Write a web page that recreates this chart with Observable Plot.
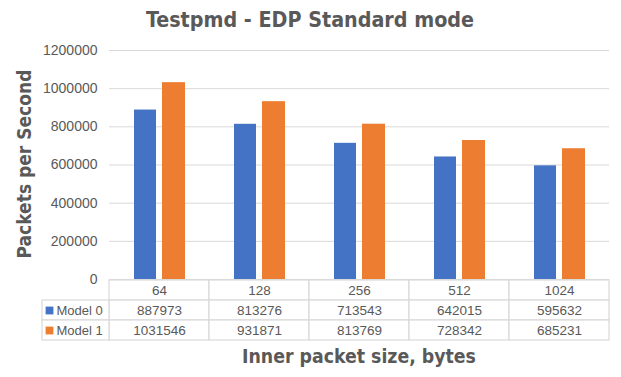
<!DOCTYPE html>
<html>
<head>
<meta charset="utf-8">
<script src="https://cdn.jsdelivr.net/npm/d3@7"></script>
<script src="https://cdn.jsdelivr.net/npm/@observablehq/plot@0.6"></script>
<style>
  html, body { margin: 0; padding: 0; background: #fff; }
  #wrap { position: relative; width: 621px; height: 377px; overflow: hidden; }
  #wrap > svg, #wrap > div { position: absolute; left: 0; }
</style>
</head>
<body>
<div id="wrap"></div>
<script>
// ---- data ----
const categories = ["64", "128", "256", "512", "1024"];
const seriesNames = ["Model 0", "Model 1"];
const model0 = [887973, 813276, 713543, 642015, 595632];
const model1 = [1031546, 931871, 813769, 728342, 685231];
const yTicks = [0, 200000, 400000, 600000, 800000, 1000000, 1200000];
const titleText = "Testpmd - EDP Standard mode";
const xTitleText = "Inner packet size, bytes";
const yTitleText = "Packets per Second";

const colors = ["#4472C4", "#ED7D31"];
const textColor = "#595959";
const gridColor = "#D9D9D9";
const numFont = "'Liberation Sans', sans-serif";
const titleFont = "'DejaVu Sans Condensed', 'DejaVu Sans', sans-serif";

const wrap = document.getElementById("wrap");

const rows0 = categories.map((c, i) => ({category: c, value: model0[i]}));
const rows1 = categories.map((c, i) => ({category: c, value: model1[i]}));

// ---- chart ----
const chart = Plot.plot({
  width: 621,
  height: 292,
  marginTop: 50,
  marginBottom: 13,
  marginLeft: 109,
  marginRight: 12,
  style: {fontFamily: numFont, fontSize: "14px", color: textColor, background: "transparent"},
  x: {type: "band", domain: categories, padding: 0, axis: null},
  y: {domain: [0, 1200000], ticks: yTicks, tickFormat: d => String(d), tickSize: 0, tickPadding: 12, label: null, grid: false},
  marks: [
    Plot.gridY(yTicks, {stroke: gridColor, strokeOpacity: 1, strokeWidth: 1}),
    Plot.barY(rows0, {x: "category", y: "value", fill: colors[0], insetLeft: 25, insetRight: 53}),
    Plot.barY(rows1, {x: "category", y: "value", fill: colors[1], insetLeft: 53, insetRight: 24}),
    Plot.axisY(yTicks, {tickSize: 0, tickPadding: 12, tickFormat: d => String(d), label: null, fill: textColor, fontSize: 14})
  ]
});
chart.style.top = "0px";
wrap.appendChild(chart);

// ---- data table ----
const headW = 0.67;
const cells = [];
categories.forEach((c, i) => {
  cells.push({x1: i, x2: i + 1, row: "size", text: c});
  cells.push({x1: i, x2: i + 1, row: seriesNames[0], text: String(model0[i])});
  cells.push({x1: i, x2: i + 1, row: seriesNames[1], text: String(model1[i])});
});
const heads = seriesNames.map((s, k) => ({x1: -headW, x2: 0, row: s, text: s, color: colors[k]}));

const table = Plot.plot({
  width: 621,
  height: 62,
  marginTop: 0,
  marginBottom: 0,
  marginLeft: 42,
  marginRight: 12,
  style: {fontFamily: numFont, fontSize: "13px", background: "transparent"},
  x: {domain: [-headW, categories.length], axis: null},
  y: {type: "band", domain: ["size", ...seriesNames], padding: 0, axis: null},
  marks: [
    Plot.rect(cells, {x1: "x1", x2: "x2", y: "row", fill: "white", stroke: gridColor, strokeWidth: 1.2}),
    Plot.rect(heads, {x1: "x1", x2: "x2", y: "row", fill: "white", stroke: gridColor, strokeWidth: 1.2}),
    Plot.text(cells, {x: d => (d.x1 + d.x2) / 2, y: "row", text: "text", fill: textColor, fontSize: 13.5}),
    Plot.dot(heads, {x: "x1", y: "row", dx: 7, symbol: "square", r: 4.4, fill: "color", stroke: null}),
    Plot.text(heads, {x: "x1", y: "row", dx: 14, text: "text", textAnchor: "start", fill: textColor, fontSize: 13})
  ]
});
table.style.top = "279px";
wrap.appendChild(table);

// ---- titles (overlay) ----
const overlay = d3.create("svg")
  .attr("width", 621).attr("height", 377)
  .style("position", "absolute").style("left", "0px").style("top", "0px")
  .style("pointer-events", "none");
overlay.append("text")
  .attr("x", 310).attr("y", 27)
  .attr("text-anchor", "middle")
  .attr("font-family", titleFont).attr("font-weight", "bold").attr("font-size", 21.3)
  .attr("fill", textColor).text(titleText);
overlay.append("text")
  .attr("x", 359).attr("y", 363)
  .attr("text-anchor", "middle")
  .attr("font-family", titleFont).attr("font-weight", "bold").attr("font-size", 19.3)
  .attr("fill", textColor).text(xTitleText);
overlay.append("text")
  .attr("transform", "translate(31,164) rotate(-90)")
  .attr("text-anchor", "middle")
  .attr("font-family", titleFont).attr("font-weight", "bold").attr("font-size", 19)
  .attr("fill", textColor).text(yTitleText);
wrap.appendChild(overlay.node());
</script>
</body>
</html>
